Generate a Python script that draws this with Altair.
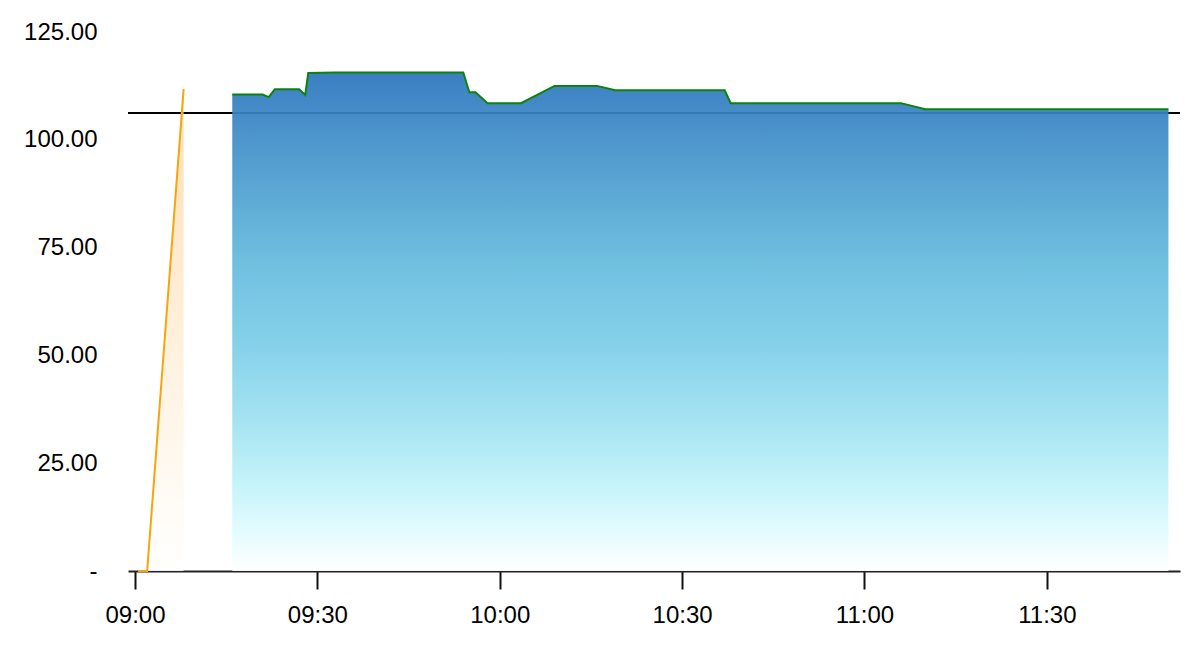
import altair as alt
import pandas as pd

# ---- data ----
ref_value = [106.2]

early_times = ["09:00:30", "09:02:00", "09:08:00"]
early_values = [0.0, 0.0, 111.8]

main_times = ["09:16:00", "09:21:00", "09:22:00", "09:23:00", "09:27:00", "09:28:00",
              "09:28:30", "09:33:00", "09:54:00", "09:55:00", "09:56:00", "09:58:00",
              "10:03:30", "10:09:00", "10:16:00", "10:19:00", "10:37:00", "10:38:00",
              "11:06:00", "11:10:00", "11:50:00"]
main_values = [110.5, 110.5, 109.9, 111.7, 111.7, 110.4,
               115.5, 115.6, 115.6, 111.0, 111.0, 108.5,
               108.5, 112.5, 112.5, 111.5, 111.5, 108.5,
               108.5, 107.1, 107.1]

x_tick_labels = ["09:00", "09:30", "10:00", "10:30", "11:00", "11:30"]
y_tick_values = [0, 25, 50, 75, 100, 125]
x_domain_times = ["08:58:51", "11:51:54"]


def to_min(t):
    h, m, s = (int(v) for v in t.split(":"))
    return (h * 60 + m + s / 60.0) - 9 * 60


early_df = pd.DataFrame({"t": [to_min(t) for t in early_times], "v": early_values})
main_df = pd.DataFrame({"t": [to_min(t) for t in main_times], "v": main_values})
ref_df = pd.DataFrame({"v": ref_value})

x_tick_values = [to_min(l + ":00") for l in x_tick_labels]
label_expr = "''"
for val, lab in reversed(list(zip(x_tick_values, x_tick_labels))):
    label_expr = f"datum.value == {val} ? '{lab}' : ({label_expr})"

x_scale = alt.Scale(domain=[to_min(x_domain_times[0]), to_min(x_domain_times[1])],
                    nice=False, zero=False)
y_scale = alt.Scale(domain=[0, 125], nice=False)

x_axis = alt.Axis(values=x_tick_values, labelExpr=label_expr, title=None, grid=False,
                  domainColor="#222222", domainWidth=2, tickColor="#111111",
                  tickWidth=2, tickSize=18, labelPadding=14)
y_axis = alt.Axis(values=y_tick_values, title=None, grid=False, domain=False,
                  ticks=False, labelPadding=31,
                  labelExpr="datum.value == 0 ? '-' : format(datum.value, '.2f')")

X = alt.X("t:Q", scale=x_scale, axis=x_axis)
Y = alt.Y("v:Q", scale=y_scale, axis=y_axis)

blue_grad = alt.Gradient(
    gradient="linear", x1=1, x2=1, y1=0, y2=1,
    stops=[
        alt.GradientStop(color="#2c75bd", offset=0),
        alt.GradientStop(color="#64badd", offset=0.375),
        alt.GradientStop(color="#7bcde8", offset=0.54),
        alt.GradientStop(color="#9fe1f1", offset=0.70),
        alt.GradientStop(color="#c2f3fa", offset=0.83),
        alt.GradientStop(color="#e4fcfe", offset=0.93),
        alt.GradientStop(color="#ffffff", offset=1),
    ],
)
orange_grad = alt.Gradient(
    gradient="linear", x1=1, x2=1, y1=0, y2=1,
    stops=[
        alt.GradientStop(color="#fcd8a6", offset=0),
        alt.GradientStop(color="#fff1de", offset=0.6),
        alt.GradientStop(color="#ffffff", offset=1),
    ],
)

rule = alt.Chart(ref_df).mark_rule(color="black", strokeWidth=2).encode(
    y=alt.Y("v:Q", scale=y_scale, axis=y_axis))

blue_area = alt.Chart(main_df).mark_area(color=blue_grad, opacity=0.93).encode(x=X, y=Y)
green_line = alt.Chart(main_df).mark_line(color="#0d820d", strokeWidth=2).encode(x=X, y=Y)
orange_area = alt.Chart(early_df).mark_area(color=orange_grad, opacity=0.85).encode(x=X, y=Y)
orange_line = alt.Chart(early_df).mark_line(color="#f5a50f", strokeWidth=2).encode(x=X, y=Y)

chart = alt.layer(rule, blue_area, green_line, orange_area, orange_line).properties(
    width=1052,
    height=539,
    autosize=alt.AutoSizeParams(type="none"),
    padding={"left": 120, "top": 24, "right": 12, "bottom": 60},
).configure_view(stroke=None).configure_axis(
    labelFont="Liberation Sans", labelFontSize=24, labelColor="black"
)

chart.save("out.html", embed_options={"renderer": "svg", "actions": False})
